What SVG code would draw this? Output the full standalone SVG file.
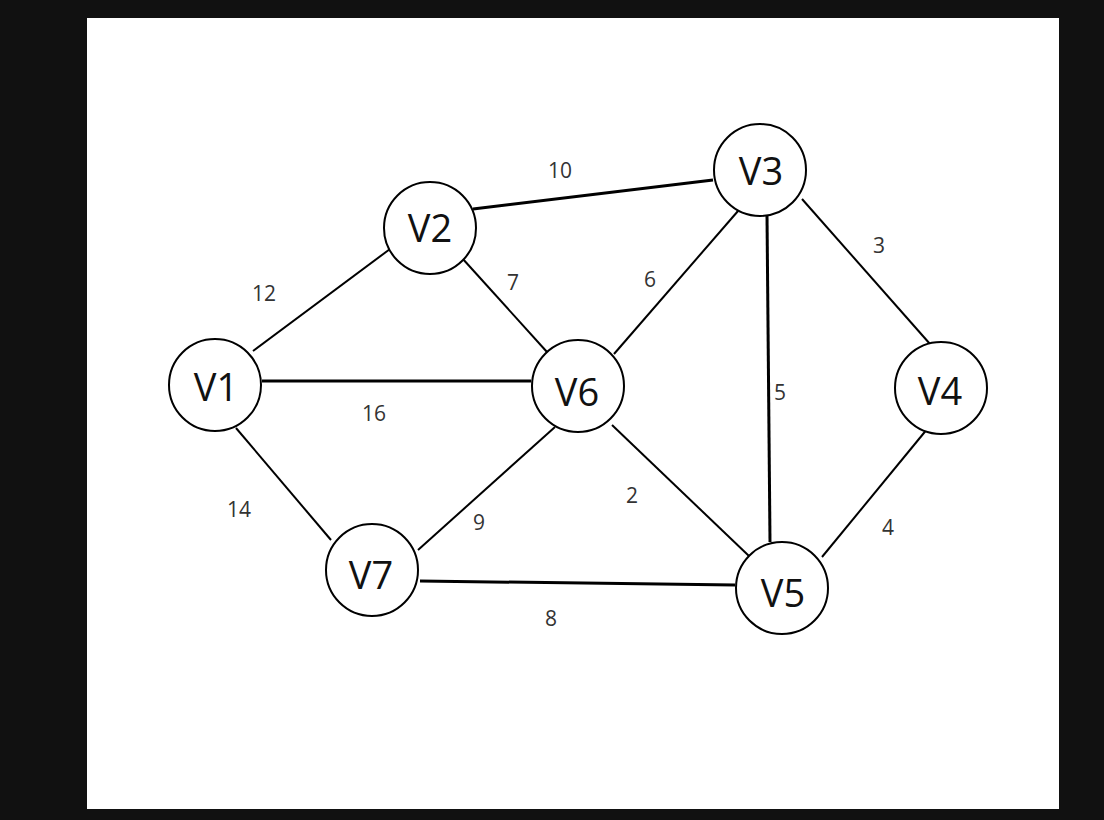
<svg xmlns="http://www.w3.org/2000/svg" width="1104" height="820" viewBox="0 0 1104 820">
<style>
.node circle{fill:#fff;stroke:#000;stroke-width:2}
.node text{font-family:"Open Sans","Noto Sans",sans-serif;font-size:38px;fill:#111;text-anchor:middle}
.edges line{stroke:#000;stroke-width:2;stroke-linecap:butt}
.edges line.thick{stroke-width:3}
.lbl{font-family:"Open Sans","Noto Sans",sans-serif;font-size:21px;fill:#333;text-anchor:middle}
</style>
<rect x="0" y="0" width="1104" height="820" fill="#111111"/>
<rect x="87" y="18" width="972" height="791" fill="#ffffff"/>
<g id="connectors" class="edges">
<line x1="253" y1="351" x2="390" y2="249"/>
<line class="thick" x1="262" y1="381" x2="531" y2="381"/>
<line x1="236" y1="428" x2="331" y2="540"/>
<line class="thick" x1="473" y1="209" x2="713" y2="180"/>
<line x1="462" y1="258" x2="547" y2="352"/>
<line x1="738" y1="211" x2="614" y2="354"/>
<line class="thick" x1="767" y1="215" x2="770" y2="542"/>
<line x1="802" y1="199" x2="930" y2="344"/>
<line x1="612" y1="425" x2="749" y2="556"/>
<line x1="555" y1="427" x2="418" y2="550"/>
<line class="thick" x1="420" y1="581" x2="735" y2="585"/>
<line x1="822" y1="557" x2="928" y2="428"/>
</g>
<g id="edge-labels">
<text class="lbl" x="560" y="178">10</text>
<text class="lbl" x="264" y="301">12</text>
<text class="lbl" x="513" y="290">7</text>
<text class="lbl" x="650" y="287">6</text>
<text class="lbl" x="879" y="253">3</text>
<text class="lbl" x="374" y="421">16</text>
<text class="lbl" x="780" y="400">5</text>
<text class="lbl" x="632" y="503">2</text>
<text class="lbl" x="239" y="517">14</text>
<text class="lbl" x="479" y="530">9</text>
<text class="lbl" x="888" y="535">4</text>
<text class="lbl" x="551" y="626">8</text>
</g>
<g id="V1" class="node"><circle cx="215" cy="385" r="46"/><text x="216" y="401">V1</text></g>
<g id="V2" class="node"><circle cx="430" cy="228" r="46"/><text x="430" y="242">V2</text></g>
<g id="V3" class="node"><circle cx="760" cy="170" r="46"/><text x="761" y="185">V3</text></g>
<g id="V4" class="node"><circle cx="941" cy="388" r="46"/><text x="940" y="405">V4</text></g>
<g id="V5" class="node"><circle cx="782" cy="588" r="46"/><text x="783" y="607">V5</text></g>
<g id="V6" class="node"><circle cx="578" cy="386" r="46"/><text x="577" y="406">V6</text></g>
<g id="V7" class="node"><circle cx="372" cy="570" r="46"/><text x="371" y="589">V7</text></g>
</svg>
